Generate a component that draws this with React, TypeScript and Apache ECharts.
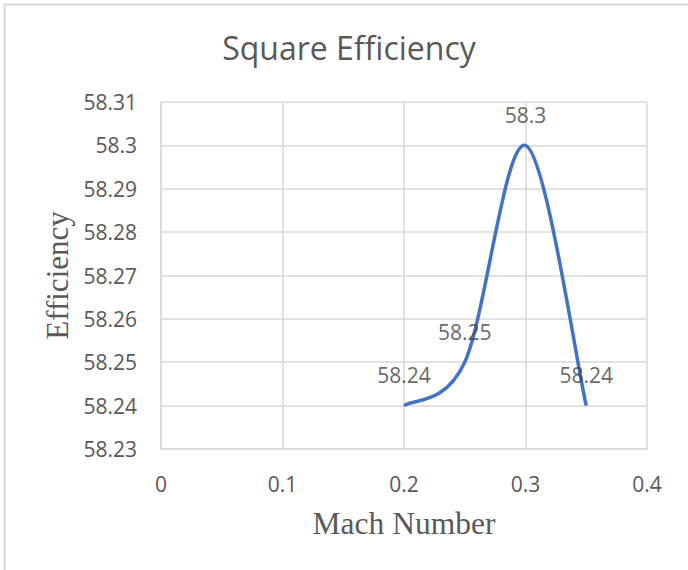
import React, { useEffect, useRef } from "react";
import * as echarts from "echarts";

const machNumbers = [0.2, 0.25, 0.3, 0.35];
const efficiencyValues = [58.24, 58.25, 58.3, 58.24];
const chartTitle = "Square Efficiency";
const xAxisTitle = "Mach Number";
const yAxisTitle = "Efficiency";

const fmt = (v: number) => String(Number(v.toFixed(2)));

export default function App() {
  const ref = useRef<HTMLDivElement>(null);
  useEffect(() => {
    if (!ref.current) return;
    const chart = echarts.init(ref.current, undefined, { renderer: "svg" });
    const data = machNumbers.map((x, i) => [x, efficiencyValues[i]]);
    chart.setOption({
      animation: false,
      backgroundColor: "#ffffff",
      graphic: [
        {
          type: "rect",
          shape: { x: 4.5, y: 4.5, width: 720, height: 620 },
          style: { fill: "none", stroke: "#d9d9d9", lineWidth: 2 },
          silent: true,
        },
        {
          type: "text",
          x: 349,
          y: 47,
          style: {
            text: chartTitle,
            fontFamily: "Open Sans",
            fontSize: 32,
            fill: "#595959",
            textAlign: "center",
            textVerticalAlign: "middle",
          },
        },
      ],
      grid: { left: 161, right: 41, top: 102, bottom: 121 },
      xAxis: {
        type: "value",
        min: 0,
        max: 0.4,
        interval: 0.1,
        name: xAxisTitle,
        nameLocation: "middle",
        nameGap: 58,
        nameTextStyle: { fontFamily: "Liberation Serif", fontSize: 31.5, color: "#595959" },
        axisLine: { show: true, lineStyle: { color: "#d9d9d9", width: 1.5 } },
        axisTick: { show: false },
        axisLabel: { margin: 24, fontFamily: "Open Sans", fontSize: 21, color: "#595959", formatter: fmt },
        splitLine: { show: true, lineStyle: { color: "#d9d9d9", width: 1.5 } },
      },
      yAxis: {
        type: "value",
        min: 58.23,
        max: 58.31,
        interval: 0.01,
        name: yAxisTitle,
        nameLocation: "middle",
        nameGap: 86,
        nameTextStyle: { fontFamily: "Liberation Serif", fontSize: 31, color: "#595959" },
        axisLine: { show: true, lineStyle: { color: "#d9d9d9", width: 1.5 } },
        axisTick: { show: false },
        axisLabel: { margin: 24, fontFamily: "Open Sans", fontSize: 21, color: "#595959", formatter: fmt },
        splitLine: { show: true, lineStyle: { color: "#d9d9d9", width: 1.5 } },
      },
      series: [
        {
          type: "custom",
          data,
          encode: { x: 0, y: 1 },
          renderItem: (params: any, api: any) => {
            if (params.dataIndex !== 0) return { type: "group", children: [] };
            const pts = data.map((d) => api.coord(d));
            const n = pts.length;
            const t = 1 / 6;
            let d = `M${pts[0][0]},${pts[0][1]}`;
            for (let i = 0; i < n - 1; i++) {
              const p0 = pts[Math.max(i - 1, 0)];
              const p1 = pts[i];
              const p2 = pts[i + 1];
              const p3 = pts[Math.min(i + 2, n - 1)];
              const c1x = p1[0] + (p2[0] - p0[0]) * t;
              const c1y = p1[1] + (p2[1] - p0[1]) * t;
              const c2x = p2[0] - (p3[0] - p1[0]) * t;
              const c2y = p2[1] - (p3[1] - p1[1]) * t;
              d += ` C${c1x},${c1y} ${c2x},${c2y} ${p2[0]},${p2[1]}`;
            }
            return {
              type: "path",
              shape: { pathData: d },
              style: { fill: "none", stroke: "#4472C4", lineWidth: 3.5, lineCap: "butt" },
            };
          },
          z: 3,
        },
        {
          type: "scatter",
          data,
          symbolSize: 0,
          itemStyle: { color: "rgba(0,0,0,0)" },
          label: {
            show: true,
            position: "top",
            distance: 20,
            fontFamily: "Open Sans",
            fontSize: 21,
            color: "#404040",
            formatter: (p: any) => fmt(p.value[1]),
          },
          z: 4,
        },
      ],
    });
    return () => chart.dispose();
  }, []);
  return (
    <div
      ref={ref}
      style={{ position: "fixed", left: 0, top: 0, width: 688, height: 570, background: "#fff" }}
    />
  );
}
